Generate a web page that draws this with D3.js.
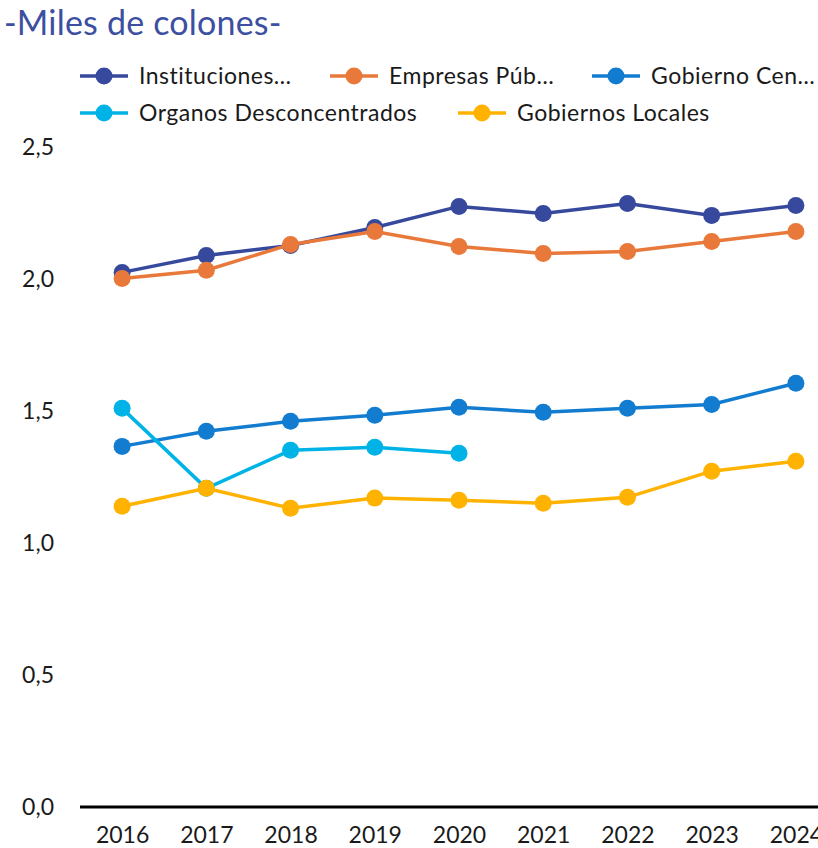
<!DOCTYPE html>
<html>
<head>
<meta charset="utf-8">
<script src="https://cdn.jsdelivr.net/npm/d3@7"></script>
<style>
  body { margin: 0; background: #fff; }
  text { font-family: Lato, "Open Sans", sans-serif; }
</style>
</head>
<body>
<script>
'use strict';
const years = ["2016","2017","2018","2019","2020","2021","2022","2023","2024"]
const instituciones = [2.025, 2.089, 2.127, 2.195, 2.275, 2.248, 2.286, 2.241, 2.278]
const empresas = [2.002, 2.033, 2.131, 2.180, 2.123, 2.097, 2.104, 2.142, 2.180]
const gobiernoCentral = [1.366, 1.423, 1.461, 1.484, 1.514, 1.495, 1.510, 1.525, 1.605]
const organos = [1.510, 1.207, 1.351, 1.363, 1.340, null, null, null, null]
const gobiernosLocales = [1.139, 1.207, 1.132, 1.170, 1.162, 1.151, 1.173, 1.272, 1.310]
const yTicks = [0, 0.5, 1.0, 1.5, 2.0, 2.5]

const series = [
    {name: "Instituciones…", values: instituciones, color: "#37499d"},
    {name: "Empresas Púb…", values: empresas, color: "#e8793a"},
    {name: "Gobierno Cen…", values: gobiernoCentral, color: "#127dd0"},
    {name: "Organos Desconcentrados", values: organos, color: "#00b3e6"},
    {name: "Gobiernos Locales", values: gobiernosLocales, color: "#ffb300"}
]

const width = 818, height = 848
const svg = d3.select("body").append("svg").attr("width", width).attr("height", height)

svg.append("text").attr("x", 4).attr("y", 35)
    .attr("font-size", 34).attr("letter-spacing", 0.2).attr("fill", "#3d4fa0")
    .text("-Miles de colones-")

// legend
const legendPos = [[80, 76], [330, 76], [592, 76], [80, 113], [458, 113]]
const legend = svg.append("g").selectAll("g").data(series).enter().append("g")
    .attr("transform", (d, i) => `translate(${legendPos[i][0]},${legendPos[i][1]})`)
legend.append("line").attr("x1", 0).attr("x2", 48).attr("y1", 0).attr("y2", 0)
    .attr("stroke", d => d.color).attr("stroke-width", 3.5)
legend.append("circle").attr("cx", 24).attr("cy", 0).attr("r", 8.5).attr("fill", d => d.color)
legend.append("text").attr("x", 59).attr("y", 0).attr("dy", "0.35em")
    .attr("font-size", 23).attr("letter-spacing", 0.5).attr("fill", "#1a1a1a").text(d => d.name)

const x = d3.scalePoint().domain(years).range([80, 838]).padding(0.5)
const y = d3.scaleLinear().domain([0, 2.5]).range([807, 147])

// y tick labels
svg.append("g").selectAll("text").data(yTicks).enter().append("text")
    .attr("x", 54).attr("y", d => y(d)).attr("dy", "0.35em")
    .attr("text-anchor", "end").attr("font-size", 23).attr("fill", "#1a1a1a")
    .text(d => d3.format(".1f")(d).replace(".", ","))

// x axis
const xAxis = svg.append("g").attr("transform", `translate(0,${y(0)})`)
    .call(d3.axisBottom(x).tickSize(0).tickPadding(20))
xAxis.select(".domain").attr("stroke", "#000").attr("stroke-width", 3)
    .attr("d", `M80,0H838`)
xAxis.selectAll("text").attr("font-size", 23).attr("fill", "#1a1a1a")
    .attr("font-family", "Lato, sans-serif")

const line = d3.line()
    .defined(d => d != null)
    .x((d, i) => x(years[i]))
    .y(d => y(d))

const groups = svg.append("g").selectAll("g").data(series).enter().append("g")
groups.append("path")
    .attr("d", d => line(d.values))
    .attr("fill", "none").attr("stroke", d => d.color).attr("stroke-width", 3.5)
groups.selectAll("circle")
    .data(d => d.values.map((v, i) => ({v: v, i: i, color: d.color})).filter(p => p.v != null))
    .enter().append("circle")
    .attr("cx", p => x(years[p.i])).attr("cy", p => y(p.v))
    .attr("r", 8.5).attr("fill", p => p.color)
</script>
</body>
</html>
